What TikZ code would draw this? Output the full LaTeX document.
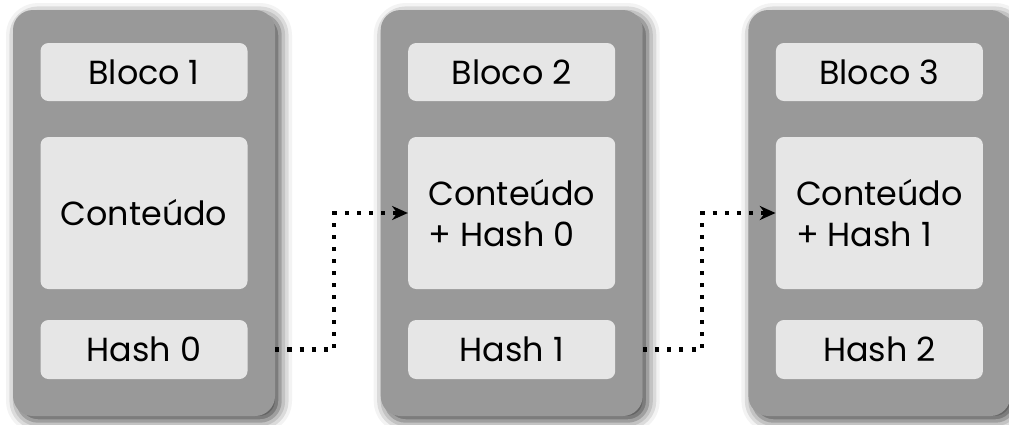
\documentclass[tikz,border=0pt]{standalone}
\usepackage{fontspec}
\setmainfont{Poppins}
\usetikzlibrary{positioning,arrows.meta,shadows.blur}

\definecolor{blockgray}{HTML}{999999}
\definecolor{cellgray}{HTML}{E6E6E6}

\begin{document}
\begin{tikzpicture}[
    blocknode/.style={rectangle, rounded corners=0.4cm, fill=blockgray, minimum width=5.24cm, minimum height=8.12cm,
        blur shadow={shadow xshift=0.1cm, shadow yshift=-0.1cm, shadow blur radius=0.24cm, shadow opacity=75}},
    cellnode/.style={rectangle, rounded corners=0.16cm, fill=cellgray, minimum width=4.14cm, inner sep=0pt,
        font=\fontsize{19}{23.5}\selectfont},
    titlenode/.style={cellnode, minimum height=1.16cm},
    hashnode/.style={cellnode, minimum height=1.18cm},
    datanode/.style={cellnode, minimum height=3.04cm, align=left},
    link/.style={line width=2.3pt, dash pattern=on 2.3pt off 4.6pt, -{Stealth[length=9pt,width=8pt]}}]

        \useasboundingbox (0,0) rectangle (20.18,-8.48);

        % the three blocks of the chain
        \node[blocknode] (blk1) at (2.88,-4.26) {};
        \node[blocknode] (blk2) [right=2.1cm of blk1] {};
        \node[blocknode] (blk3) [right=2.1cm of blk2] {};

        \node[titlenode] (t1) [below=0.66cm of blk1.north] {Bloco 1};
        \node[datanode] (c1) at (blk1.center) {Conteúdo};
        \node[hashnode] (h1) [above=0.74cm of blk1.south] {Hash 0};

        \node[titlenode] (t2) [below=0.66cm of blk2.north] {Bloco 2};
        \node[datanode] (c2) at (blk2.center) {Conteúdo\\+ Hash 0};
        \node[hashnode] (h2) [above=0.74cm of blk2.south] {Hash 1};

        \node[titlenode] (t3) [below=0.66cm of blk3.north] {Bloco 3};
        \node[datanode] (c3) at (blk3.center) {Conteúdo\\+ Hash 1};
        \node[hashnode] (h3) [above=0.74cm of blk3.south] {Hash 2};

        % hash of one block goes into the next one
        \draw[link] (blk1.east |- h1) -- ++(1.18,0) |- (c2.west);
        \draw[link] (blk2.east |- h2) -- ++(1.18,0) |- (c3.west);

\end{tikzpicture}
\end{document}
